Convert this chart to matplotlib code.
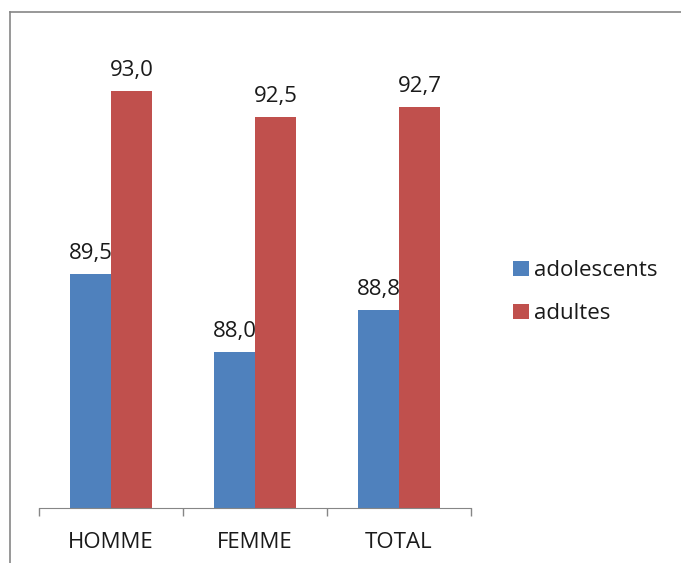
#!/usr/bin/env python3

import matplotlib.pyplot as plt
from matplotlib.lines import Line2D
import numpy as np

plt.rcParams["font.family"] = ["Open Sans", "DejaVu Sans"]

CATEGORIES = ["HOMME", "FEMME", "TOTAL"]
SERIES = ["adolescents", "adultes"]
ADOLESCENTS = [89.5, 88.0, 88.8]
ADULTES = [93.0, 92.5, 92.7]
COLORS = ["#4F81BD", "#C0504D"]


def fmt(v):
    return f"{v:.1f}".replace(".", ",")


def main():
    W, H = 681, 563
    fig = plt.figure(figsize=(W / 100, H / 100), dpi=100)
    ax = fig.add_axes([39 / W, 1 - 508 / H, (471 - 39) / W, (508 - 39) / H])

    x = np.arange(len(CATEGORIES))
    width = 0.285
    b1 = ax.bar(x - width / 2, ADOLESCENTS, width, color=COLORS[0], label=SERIES[0])
    b2 = ax.bar(x + width / 2, ADULTES, width, color=COLORS[1], label=SERIES[1])

    ax.set_ylim(85, 94)
    ax.set_xlim(-0.5, len(CATEGORIES) - 0.5)

    for bars, vals in ((b1, ADOLESCENTS), (b2, ADULTES)):
        ax.bar_label(bars, labels=[fmt(v) for v in vals], padding=7,
                     fontsize=16, color="#1a1a1a")

    for side in ("top", "right", "left"):
        ax.spines[side].set_visible(False)
    ax.spines["bottom"].set_color("#868686")
    ax.yaxis.set_visible(False)
    ax.set_xticks(x)
    ax.set_xticklabels(CATEGORIES, fontsize=16, color="#1a1a1a")
    ax.tick_params(axis="x", which="major", length=0, pad=17)
    ax.set_xticks(np.arange(len(CATEGORIES) + 1) - 0.5, minor=True)
    ax.tick_params(axis="x", which="minor", length=5.5, color="#868686", width=1)

    ax.legend(loc="center left", bbox_to_anchor=(493 / W, 1 - 292 / H),
              bbox_transform=fig.transFigure, frameon=False, fontsize=16,
              handlelength=0.7, handleheight=0.65, handletextpad=0.25,
              labelspacing=1.0, labelcolor="#1a1a1a")

    # outer chart frame (only top and left visible in crop)
    fig.add_artist(Line2D([10 / W, 10 / W], [0, 1 - 12 / H],
                          transform=fig.transFigure, color="#868686", lw=1.2))
    fig.add_artist(Line2D([10 / W, 1], [1 - 12 / H, 1 - 12 / H],
                          transform=fig.transFigure, color="#868686", lw=1.2))

    fig.savefig("out.png", dpi=100)
    plt.close(fig)


if __name__ == "__main__":
    main()
